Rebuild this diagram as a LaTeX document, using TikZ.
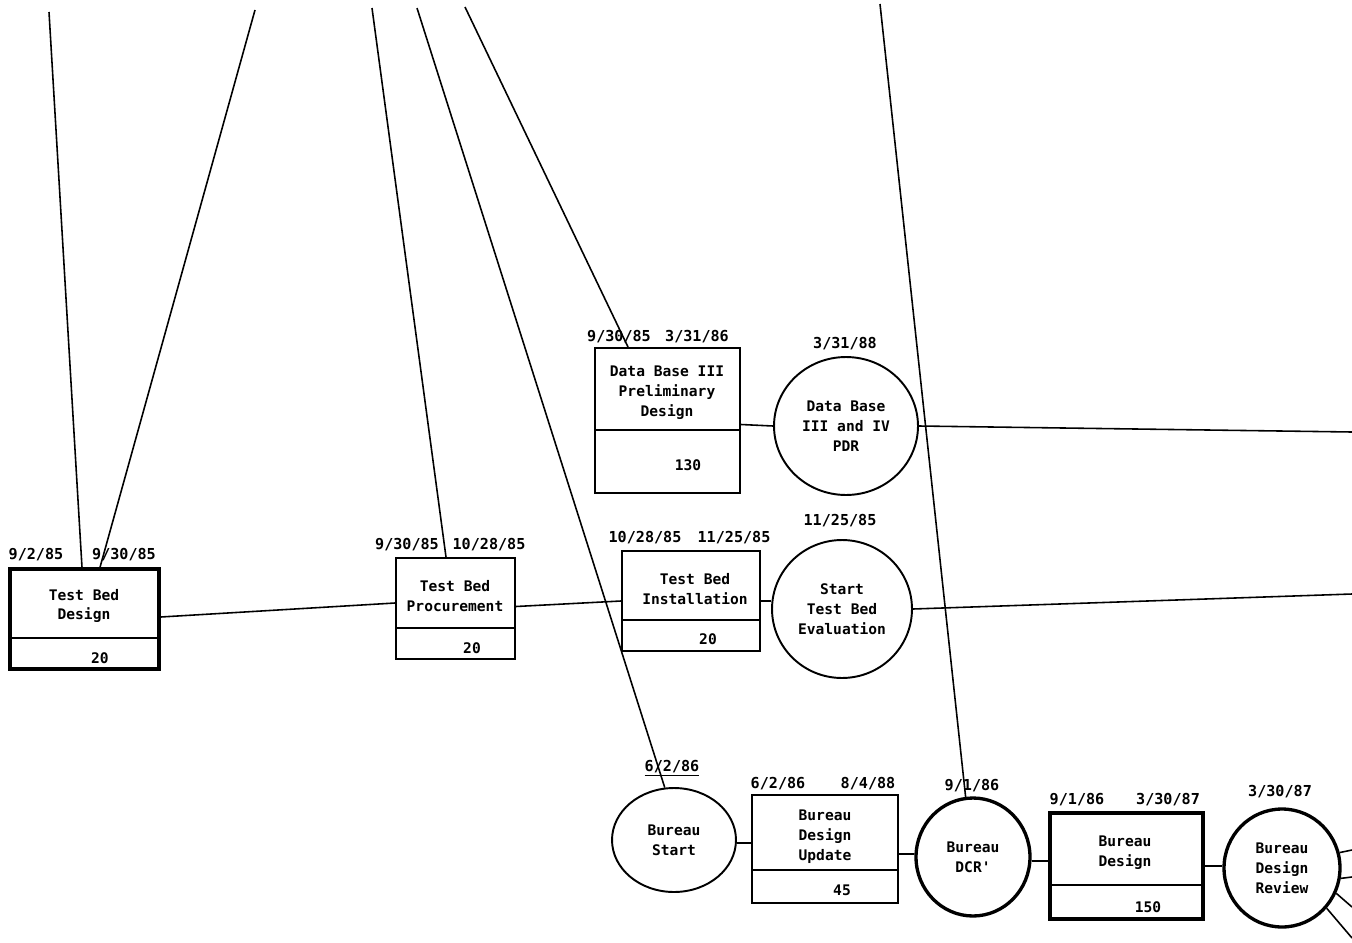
\documentclass[tikz,border=0pt]{standalone}
\usepackage{fontspec}
\setmonofont{DejaVu Sans Mono}
\usetikzlibrary{shapes.geometric}
\tikzset{
  lbl/.style={font=\ttfamily\bfseries\fontsize{8.3}{11.3}\selectfont, align=center, inner sep=0pt},
  datelbl/.style={font=\ttfamily\bfseries\fontsize{8.6}{10}\selectfont, inner sep=0pt},
  taskbox/.style={draw, line width=1.1pt, rectangle, inner sep=0pt},
  thickbox/.style={taskbox, line width=1.9pt},
  evt/.style={draw, line width=1.1pt, ellipse, inner sep=0pt, align=center,
    font=\ttfamily\bfseries\fontsize{8.3}{11.3}\selectfont},
  thickevt/.style={evt, line width=1.9pt},
  conn/.style={line width=0.9pt},
  divider/.style={line width=0.6pt}
}
\begin{document}
\begin{tikzpicture}[x=0.02cm,y=-0.02cm]
\useasboundingbox (0,0) rectangle (1352,943);

% ---- task boxes ----
\node[thickbox, minimum width=2.98cm, minimum height=2.0cm] (tbd) at (84.5,619) {};
\draw[divider] (10,638) -- (159,638);
\node[lbl] (tbdt) at (84,606) {Test Bed\\Design};
\node[lbl] (tbdn) at (100,658) {20};
\node[datelbl] (tbdd1) at (36,555) {9/2/85};
\node[datelbl] (tbdd2) at (124,555) {9/30/85};

\node[taskbox, minimum width=2.38cm, minimum height=2.02cm] (tbp) at (455.5,608.5) {};
\draw[divider] (396,628) -- (515,628);
\node[lbl] (tbpt) at (455,596) {Test Bed\\Procurement};
\node[lbl] (tbpn) at (472,648) {20};
\node[datelbl] (tbpd1) at (407,545) {9/30/85};
\node[datelbl] (tbpd2) at (489,545) {10/28/85};

\node[taskbox, minimum width=2.76cm, minimum height=2.0cm] (tbi) at (691,601) {};
\draw[divider] (622,620) -- (760,620);
\node[lbl] (tbit) at (695,589) {Test Bed\\Installation};
\node[lbl] (tbin) at (708,639) {20};
\node[datelbl] (tbid1) at (645,538) {10/28/85};
\node[datelbl] (tbid2) at (734,538) {11/25/85};

\node[taskbox, minimum width=2.9cm, minimum height=2.9cm] (dbp) at (667.5,420.5) {};
\draw[divider] (595,430) -- (740,430);
\node[lbl] (dbpt) at (667,393) {Data Base III\\Preliminary\\Design};
\node[lbl] (dbpn) at (688,465) {130};
\node[datelbl] (dbpd1) at (619,337) {9/30/85};
\node[datelbl] (dbpd2) at (697,337) {3/31/86};

\node[taskbox, minimum width=2.92cm, minimum height=2.16cm] (bdu) at (825,849) {};
\draw[divider] (752,870) -- (898,870);
\node[lbl] (bdut) at (825,837) {Bureau\\Design\\Update};
\node[lbl] (bdun) at (842,890) {45};
\node[datelbl] (bdud1) at (778,784) {6/2/86};
\node[datelbl] (bdud2) at (868,784) {8/4/88};

\node[thickbox, minimum width=3.06cm, minimum height=2.12cm] (bd) at (1126.5,866) {};
\draw[divider] (1050,885) -- (1203,885);
\node[lbl] (bdt) at (1125,853) {Bureau\\Design};
\node[lbl] (bdn) at (1148,907) {150};
\node[datelbl] (bdd1) at (1077,800) {9/1/86};
\node[datelbl] (bdd2) at (1168,800) {3/30/87};

% ---- events ----
\node[evt, minimum width=2.8cm, minimum height=2.76cm] (tbe) at (842,609) {Start\\Test Bed\\Evaluation};
\node[datelbl] (tbed) at (840,521) {11/25/85};

\node[evt, minimum width=2.88cm, minimum height=2.76cm] (pdr) at (846,426) {Data Base\\III and IV\\PDR};
\node[datelbl] (pdrd) at (845,344) {3/31/88};

\node[evt, minimum width=2.48cm, minimum height=2.08cm] (bs) at (674,840) {Bureau\\Start};
\node[datelbl] (bsd) at (672,768) {\underline{6/2/86}};

\node[thickevt, minimum width=2.28cm, minimum height=2.36cm] (dcr) at (973,857) {Bureau\\DCR'};
\node[datelbl] (dcrd) at (972,786) {9/1/86};

\node[thickevt, minimum width=2.32cm, minimum height=2.36cm] (bdr) at (1282,868) {Bureau\\Design\\Review};
\node[datelbl] (bdrd) at (1280,792) {3/30/87};

% ---- free ends ----
\coordinate (t1) at (49,12);
\coordinate (t2) at (255,10);
\coordinate (t3) at (372,8);
\coordinate (t4) at (417,8);
\coordinate (t5) at (465,7);
\coordinate (t6) at (880,4);
\coordinate (r1) at (1352,594);
\coordinate (r2) at (1352,432);
\coordinate (r3) at (1352,850);
\coordinate (r4) at (1352,877);
\coordinate (r5) at (1352,907);
\coordinate (r6) at (1352,938);

% ---- connectors ----
\draw[conn] (t1) -- ([xshift=-0.05cm]tbd.north);
\draw[conn] (t2) -- ([xshift=0.31cm]tbd.north);
\draw[conn] (t3) -- ([xshift=-0.19cm]tbp.north);
\draw[conn] (t4) -- (bs.100);
\draw[conn] (t5) -- ([xshift=-0.79cm]dbp.north);
\draw[conn] (t6) -- (dcr.97);

\draw[conn] ([yshift=0.04cm]tbd.east) -- ([yshift=0.11cm]tbp.west);
\draw[conn] ([yshift=0.04cm]tbp.east) -- (tbi.west);
\draw[conn] (tbi.east) -- (tbi.east -| tbe.west);
\draw[conn] (tbe.east) -- (r1);
\draw[conn] ([yshift=-0.08cm]dbp.east) -- (pdr.west);
\draw[conn] (pdr.east) -- (r2);
\draw[conn] ([yshift=-0.06cm]bs.east) -- ([yshift=-0.06cm]bs.east -| bdu.west);
\draw[conn] ([yshift=-0.1cm]bdu.east) -- ([yshift=0.06cm]dcr.west);
\draw[conn] ([yshift=-0.08cm]dcr.east) -- ([yshift=-0.08cm]dcr.east -| bd.west);
\draw[conn] (bd.east) -- (bd.east -| bdr.west);
\draw[conn] (bdr.15) -- (r3);
\draw[conn] (bdr.-10) -- (r4);
\draw[conn] (bdr.-25) -- (r5);
\draw[conn] (bdr.-42) -- (r6);
\end{tikzpicture}
\end{document}
